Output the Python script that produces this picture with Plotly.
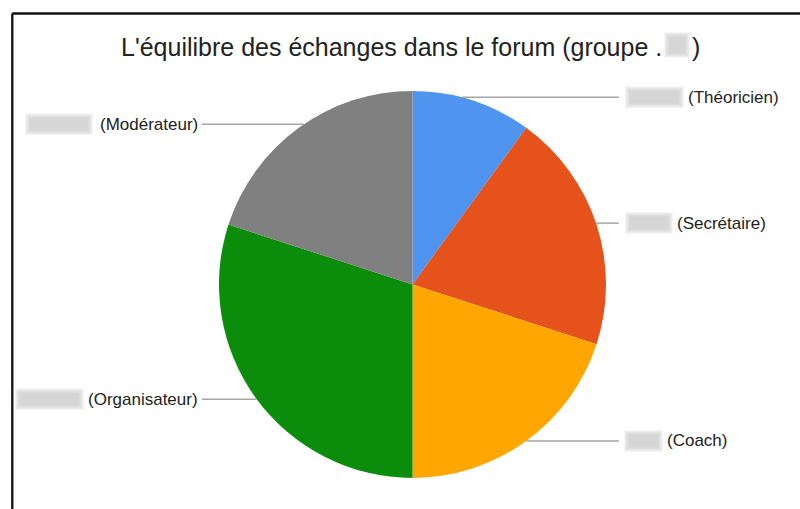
import math
import plotly.graph_objects as go

# Share of forum exchanges per role (percent), clockwise from 12 o'clock
roles = ["(Théoricien)", "(Secrétaire)", "(Coach)", "(Organisateur)", "(Modérateur)"]
shares = [10, 20, 20, 30, 20]
colors = ["#4f94ef", "#e5521b", "#ffa600", "#0b8c0b", "#808080"]

title_text = "L'équilibre des échanges dans le forum (groupe ."

W, H = 800, 509
CX, CY, R = 412.5, 284.4, 193.5          # pie centre and radius, in pixels

# label layout: vertical nudge of the leader line, and the extent of the
# obscured name placed before each role (pixels)
label_nudge = [-3.0, -1.5, 0.0, 1.0, -3.5]
name_boxes = [(625, 684), (625, 673), (624, 663), (15, 84), (25, 93)]
RIGHT_LINE_END = 619
LEFT_TEXT_END, LEFT_LINE_START = 200, 202


def px(x):
    return x / W


def py(y):
    return 1 - y / H


fig = go.Figure(go.Pie(
    labels=roles,
    values=shares,
    sort=False,
    direction="clockwise",
    rotation=0,
    marker=dict(colors=colors, line=dict(width=0)),
    textinfo="none",
    hoverinfo="label+percent",
    showlegend=False,
    domain=dict(x=[px(CX - R), px(CX + R)], y=[py(CY + R), py(CY - R)]),
))

shapes = []
annotations = []


def soft_box(x0, x1, yc, h):
    """Light smudge standing in for an obscured name."""
    for inset in range(0, 6):
        shapes.append(dict(
            type="rect", xref="paper", yref="paper", layer="above",
            x0=px(x0 + inset), x1=px(x1 - inset),
            y0=py(yc + h / 2 - inset), y1=py(yc - h / 2 + inset),
            fillcolor="#c4c4c4", opacity=0.17, line=dict(width=0),
        ))


total = sum(shares)
cum = 0
for i, (role, v) in enumerate(zip(roles, shares)):
    mid = (cum + v / 2) / total * 2 * math.pi
    cum += v
    ly = CY - R * math.cos(mid) + label_nudge[i]
    dx = math.sqrt(max(R * R - (ly - CY) ** 2, 0))
    right = math.sin(mid) > 0
    if right:
        x_start, x_end = CX + dx, RIGHT_LINE_END
    else:
        x_start, x_end = LEFT_LINE_START, CX - dx
    shapes.append(dict(
        type="line", xref="paper", yref="paper",
        x0=px(x_start), x1=px(x_end), y0=py(ly), y1=py(ly),
        line=dict(color="#a6a6a6", width=1.5),
    ))
    b0, b1 = name_boxes[i]
    soft_box(b0, b1, ly, 22)
    if right:
        annotations.append(dict(
            x=px(b1 + 2), y=py(ly), xref="paper", yref="paper",
            xanchor="left", yanchor="middle", text=role, showarrow=False,
            font=dict(family="Liberation Sans, Arial", size=17, color="#222222"),
        ))
    else:
        annotations.append(dict(
            x=px(LEFT_TEXT_END), y=py(ly), xref="paper", yref="paper",
            xanchor="right", yanchor="middle", text=role, showarrow=False,
            font=dict(family="Liberation Sans, Arial", size=17, color="#222222"),
        ))

# title, with the group name obscured
title_font = dict(family="Liberation Sans, Arial", size=25, color="#222222")
annotations.append(dict(
    x=px(664), y=py(47), xref="paper", yref="paper", xanchor="right",
    yanchor="middle", text=title_text, showarrow=False, font=title_font,
))
annotations.append(dict(
    x=px(690), y=py(47), xref="paper", yref="paper", xanchor="left",
    yanchor="middle", text=")", showarrow=False, font=title_font,
))
soft_box(664, 690, 45, 26)

# frame edges
shapes.append(dict(type="line", xref="paper", yref="paper",
                   x0=px(12.3), x1=1.0, y0=py(13.5), y1=py(13.5),
                   line=dict(color="#111111", width=2.3)))
shapes.append(dict(type="line", xref="paper", yref="paper",
                   x0=px(12.3), x1=px(12.3), y0=py(13.5), y1=0.0,
                   line=dict(color="#111111", width=2.3)))

fig.update_layout(
    width=W, height=H,
    margin=dict(l=0, r=0, t=0, b=0),
    paper_bgcolor="white",
    plot_bgcolor="white",
    shapes=shapes,
    annotations=annotations,
)

fig.write_html("out.html")
